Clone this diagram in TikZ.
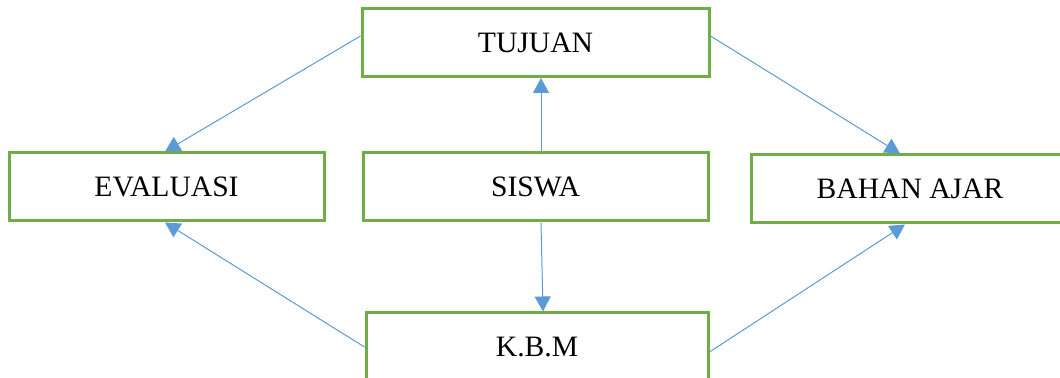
\documentclass[tikz,border=0pt]{standalone}
\usepackage{fontspec}
\setmainfont{Liberation Serif}
\usetikzlibrary{arrows.meta}
\definecolor{boxgreen}{RGB}{112,173,71}
\definecolor{arrowblue}{RGB}{91,155,213}
\begin{document}
\begin{tikzpicture}[x=0.5pt,y=-0.5pt]
  \tikzstyle{box}=[draw=boxgreen, line width=1.5pt, fill=white, minimum height=34pt,
    inner sep=0pt, font=\fontsize{14.8}{18}\selectfont]
  \tikzstyle{link}=[draw=arrowblue, line width=0.5pt, -{Triangle[length=7.5pt,width=8pt]}]
  \useasboundingbox (0,0) rectangle (1060,378);
  \clip (0,0) rectangle (1060,378);
  \node [box, minimum width=173.5pt] (tujuan) at (535.5,42.5) {TUJUAN};
  \node [box, minimum width=157.5pt] (evaluasi) at (166.5,187) {EVALUASI};
  \node [box, minimum width=172.5pt] (siswa) at (535.5,187) {SISWA};
  \node [box, minimum width=159pt] (bahan) at (910,189) {BAHAN AJAR};
  \node [box, minimum width=171pt] (kbm) at (537,347) {K.B.M};
  \draw [link] ([yshift=3.25pt]tujuan.west) -- ([xshift=-0.75pt]evaluasi.north);
  \draw [link] ([yshift=3.25pt]tujuan.east) -- ([xshift=-5pt]bahan.north);
  \draw [link] ([xshift=2.75pt]siswa.north) -- ([xshift=2.75pt]tujuan.south);
  \draw [link] ([xshift=2.75pt]siswa.south) -- ([xshift=3pt]kbm.north);
  \draw [link] (kbm.west) -- ([xshift=-0.75pt]evaluasi.south);
  \draw [link] ([yshift=-2.5pt]kbm.east) -- ([xshift=-2.5pt]bahan.south);
\end{tikzpicture}
\end{document}
